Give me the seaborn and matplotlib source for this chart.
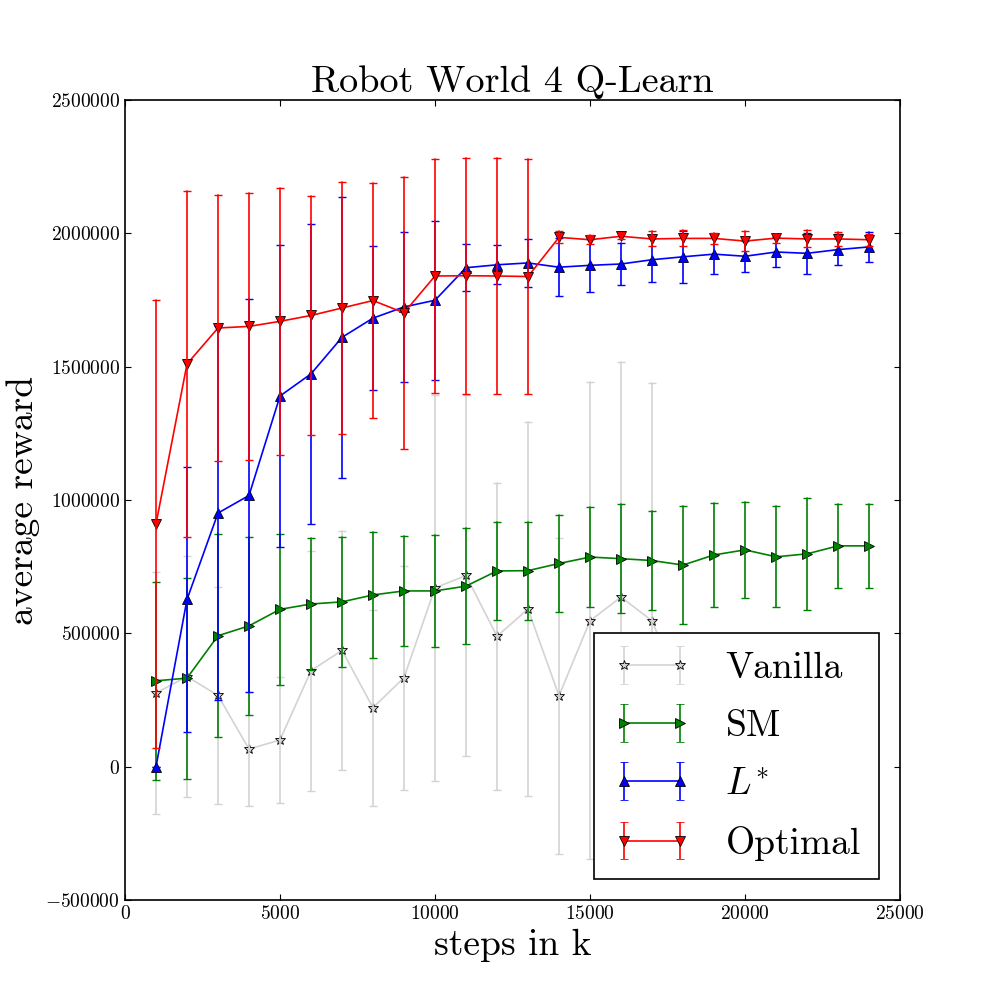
import numpy as np
import pandas as pd
import matplotlib
matplotlib.use('Agg')
import matplotlib.pyplot as plt
import seaborn as sns

'''
values read off the reference chart
'''
steps = [1000, 2000, 3000, 4000, 5000, 6000, 7000, 8000, 9000, 10000, 11000, 12000,
         13000, 14000, 15000, 16000, 17000, 18000, 19000, 20000, 21000, 22000, 23000, 24000]

vanilla_mean = [276000, 338000, 267000, 66000, 100000, 360000, 436000, 221000, 334000, 670000, 717000, 489000,
                591000, 266000, 547000, 636000, 547000, 266000, 290000, 250000, 270000, 260000, 280000, 270000]
vanilla_err = [453000, 453000, 408000, 213000, 236000, 450000, 447000, 368000, 420000, 722000, 678000, 575000,
               700000, 593000, 894000, 882000, 892000, 200000, 190000, 200000, 190000, 200000, 190000, 200000]

sm_mean = [322000, 332000, 491000, 528000, 590000, 610000, 618000, 644000, 659000, 659000, 677000, 734000,
           735000, 762000, 786000, 780000, 773000, 756000, 794000, 813000, 787000, 798000, 828000, 828000]
sm_err = [372000, 377000, 380000, 334000, 284000, 248000, 244000, 236000, 205000, 210000, 218000, 183000,
          184000, 181000, 187000, 204000, 184000, 220000, 195000, 180000, 190000, 210000, 158000, 158000]

lstar_mean = [0, 627000, 951000, 1017000, 1390000, 1473000, 1610000, 1682000, 1724000, 1749000, 1871000, 1882000,
              1889000, 1873000, 1880000, 1885000, 1901000, 1912000, 1922000, 1914000, 1930000, 1925000, 1939000, 1949000]
lstar_err = [0, 497000, 700000, 737000, 567000, 562000, 526000, 270000, 281000, 298000, 88000, 73000,
             90000, 109000, 100000, 77000, 83000, 97000, 75000, 59000, 56000, 76000, 57000, 57000]

optimal_mean = [910000, 1510000, 1645000, 1651000, 1670000, 1692000, 1720000, 1748000, 1702000, 1840000, 1841000, 1840000,
                1838000, 1985000, 1976000, 1989000, 1979000, 1981000, 1981000, 1971000, 1982000, 1979000, 1979000, 1976000]
optimal_err = [840000, 647000, 500000, 500000, 500000, 449000, 472000, 440000, 510000, 440000, 442000, 442000,
               440000, 22000, 17000, 10000, 28000, 30000, 22000, 36000, 17000, 32000, 27000, 22000]

labels = ['Vanilla', 'SM', r'$L^{\!*}$', 'Optimal']
colors = ['lightgray', 'green', 'blue', 'red']
markers = ['*', '>', '^', 'v']
means = [vanilla_mean, sm_mean, lstar_mean, optimal_mean]
errs = [vanilla_err, sm_err, lstar_err, optimal_err]

'''
style
'''
sns.set_style('white')
plt.rcParams['font.family'] = 'serif'
plt.rcParams['font.serif'] = ['cmr10', 'DejaVu Serif']
plt.rcParams['mathtext.fontset'] = 'cm'
plt.rcParams['axes.formatter.use_mathtext'] = True
plt.rcParams['text.color'] = 'black'
plt.rcParams['axes.labelcolor'] = 'black'
plt.rcParams['axes.edgecolor'] = 'black'
plt.rcParams['axes.linewidth'] = 1.2
plt.rcParams['xtick.direction'] = 'in'
plt.rcParams['ytick.direction'] = 'in'
plt.rcParams['xtick.top'] = True
plt.rcParams['ytick.right'] = True
plt.rcParams['xtick.bottom'] = True
plt.rcParams['ytick.left'] = True
plt.rcParams['xtick.major.size'] = 4
plt.rcParams['ytick.major.size'] = 4
plt.rcParams['xtick.color'] = 'black'
plt.rcParams['ytick.color'] = 'black'

fig, ax = plt.subplots(figsize=(10, 10), dpi=100)
fig.subplots_adjust(left=0.125, right=0.9, bottom=0.1, top=0.9)

'''
long table: two rows per step (mean - err, mean + err), bars span min..max
'''
handles = []
for label, color, marker, m, e in zip(labels, colors, markers, means, errs):
    m = np.array(m, dtype=float)
    e = np.array(e, dtype=float)
    df = pd.DataFrame({
        'steps': np.concatenate([steps, steps]),
        'reward': np.concatenate([m - e, m + e]),
    })
    ms = 7 if marker == '*' else 7.5
    mfc = 'lightgray' if marker == '*' else color
    sns.lineplot(
        data=df, x='steps', y='reward', ax=ax,
        estimator='mean', errorbar=lambda v: (v.min(), v.max()),
        err_style='bars', err_kws={'capsize': 3, 'elinewidth': 1.2, 'capthick': 1.0},
        color=color, marker=marker, markersize=ms, markerfacecolor=mfc,
        markeredgecolor='black', markeredgewidth=0.6, linewidth=1.2, legend=False
    )
    # legend proxy (nothing visible on the axes)
    h = ax.errorbar([np.nan, np.nan], [np.nan, np.nan], yerr=[1.0, 1.0],
                    color=color, marker=marker, markersize=ms,
                    markerfacecolor=mfc, markeredgecolor='black', markeredgewidth=0.6,
                    linewidth=1.2, capsize=3, elinewidth=1.2, capthick=1.0, label=label)
    handles.append(h)

ax.set_xlim(0, 25000)
ax.set_ylim(-500000, 2500000)
ax.set_xticks([0, 5000, 10000, 15000, 20000, 25000])
ax.set_yticks([-500000, 0, 500000, 1000000, 1500000, 2000000, 2500000])
ax.ticklabel_format(style='plain', useOffset=False)
ax.tick_params(labelsize=14)

ax.set_title('Robot World 4 Q-Learn', fontsize=27.5)
ax.set_xlabel('steps in k', fontsize=27)
ax.set_ylabel('average reward', fontsize=27)

leg = ax.legend(
    handles=handles, labels=labels, loc='lower right', numpoints=2,
    fontsize=27, handlelength=2.1, handletextpad=0.9, borderpad=0.5,
    labelspacing=0.66, borderaxespad=0.55, fancybox=False, framealpha=1,
    edgecolor='black'
)
leg.get_frame().set_linewidth(1.2)

plt.savefig('out.png', dpi=100)
